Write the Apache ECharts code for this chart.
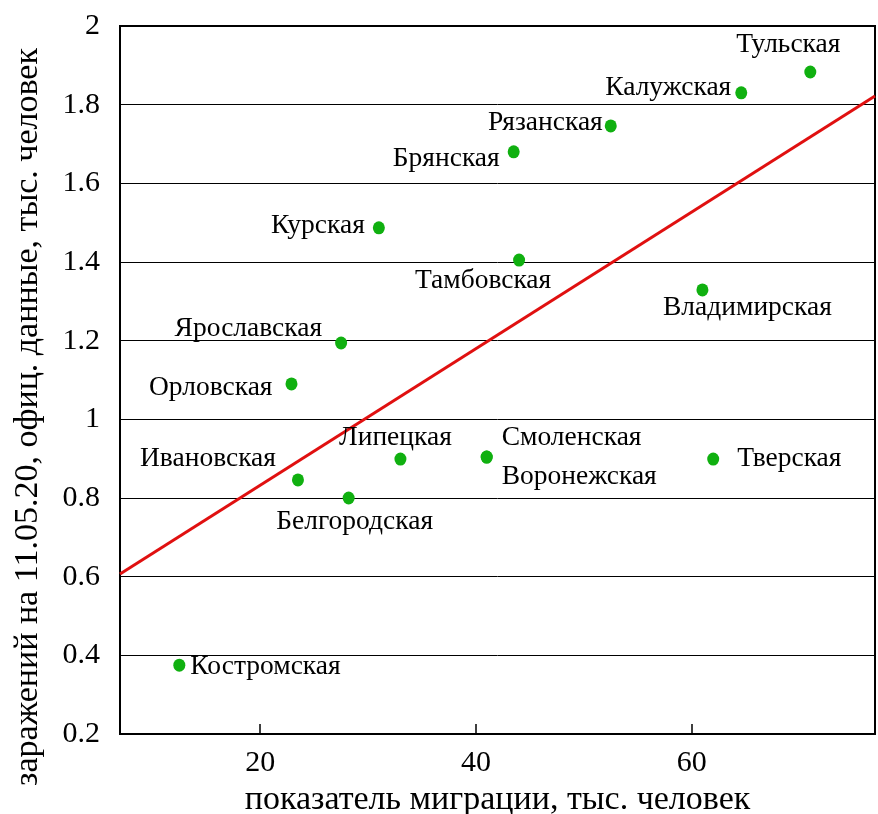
<!DOCTYPE html>
<html><head><meta charset="utf-8">
<script src="https://cdn.jsdelivr.net/npm/echarts@6/dist/echarts.min.js"></script>
<style>html,body{margin:0;padding:0;background:#fff}#c{width:878px;height:814px}</style>
</head><body><div id="c"></div>
<script>
const regions = ['Тульская','Калужская','Рязанская','Брянская','Курская','Тамбовская','Владимирская','Ярославская','Орловская','Липецкая','Смоленская','Воронежская','Тверская','Ивановская','Белгородская','Костромская'];
const migration = [71.0,64.6,52.5,43.5,31.0,44.0,61.0,27.5,22.9,33.0,41.0,41.0,62.0,23.5,28.2,12.5];
const infected = [1.883,1.830,1.746,1.680,1.487,1.405,1.329,1.194,1.090,0.899,0.904,0.904,0.899,0.846,0.800,0.375];
const fitX = [7, 77];
const fitY = [0.607, 1.822];
const xTicks = [20, 40, 60];
// label placement: [align, dx, dy]
const labelPlace = [['center',-22,-27],['right',-10,-5],['right',-8,-3],['right',-14,7],['right',-14,-2],['center',-36,21],['center',45,18],['right',-19,-14],['right',-19,4],['center',-5,-21],['left',15,-19],['left',15,20],['left',24,0],['right',-22,-21],['center',6,24],['left',11,2]];

const font = '"Liberation Serif","DejaVu Serif",serif';
const pts = regions.map((n,i)=>({
  name:n, value:[migration[i], infected[i]],
  label:{show:true, position:'inside', formatter:n, align:labelPlace[i][0], verticalAlign:'middle',
    offset:[labelPlace[i][1], labelPlace[i][2]], fontFamily:font, fontSize:27.5, color:'#000',
    textBorderWidth:0, textShadowBlur:0}
}));
const chart = echarts.init(document.getElementById('c'), null, {renderer:'canvas'});
chart.setOption({
  animation:false,
  backgroundColor:'#fff',
  grid:{left:120,right:3,top:26,bottom:80,outerBoundsMode:'none',containLabel:false,show:true,borderColor:'#000',borderWidth:2,backgroundColor:'transparent'},
  xAxis:{type:'value',min:7,max:77,
    name:'показатель миграции, тыс. человек',nameLocation:'middle',nameGap:42,
    nameTextStyle:{fontFamily:font,fontSize:34,color:'#000'},
    axisLine:{show:true,lineStyle:{color:'#000',width:2}},
    axisTick:{show:true,inside:true,length:10,customValues:xTicks,lineStyle:{color:'#000',width:1.5}},
    axisLabel:{customValues:xTicks,fontFamily:font,fontSize:30,color:'#000',margin:14},
    splitLine:{show:false}},
  yAxis:{type:'value',min:0.2,max:2,interval:0.2,
    name:'заражений на 11.05.20, офиц. данные, тыс. человек',nameLocation:'middle',nameGap:75,
    nameTextStyle:{fontFamily:font,fontSize:34,color:'#000',padding:[0,74,0,0]},
    axisLine:{show:true,lineStyle:{color:'#000',width:2}},
    axisTick:{show:false},
    axisLabel:{fontFamily:font,fontSize:30,color:'#000',margin:20},
    splitLine:{show:true,lineStyle:{color:'#000',width:1}}},
  series:[
    {type:'line',data:fitX.map((x,i)=>[x,fitY[i]]),symbol:'none',lineStyle:{color:'#e01010',width:3},z:3,silent:true},
    {type:'scatter',data:pts,symbol:'circle',symbolSize:[12,13],itemStyle:{color:'#10b010',opacity:1},z:4}
  ]
});
</script></body></html>
